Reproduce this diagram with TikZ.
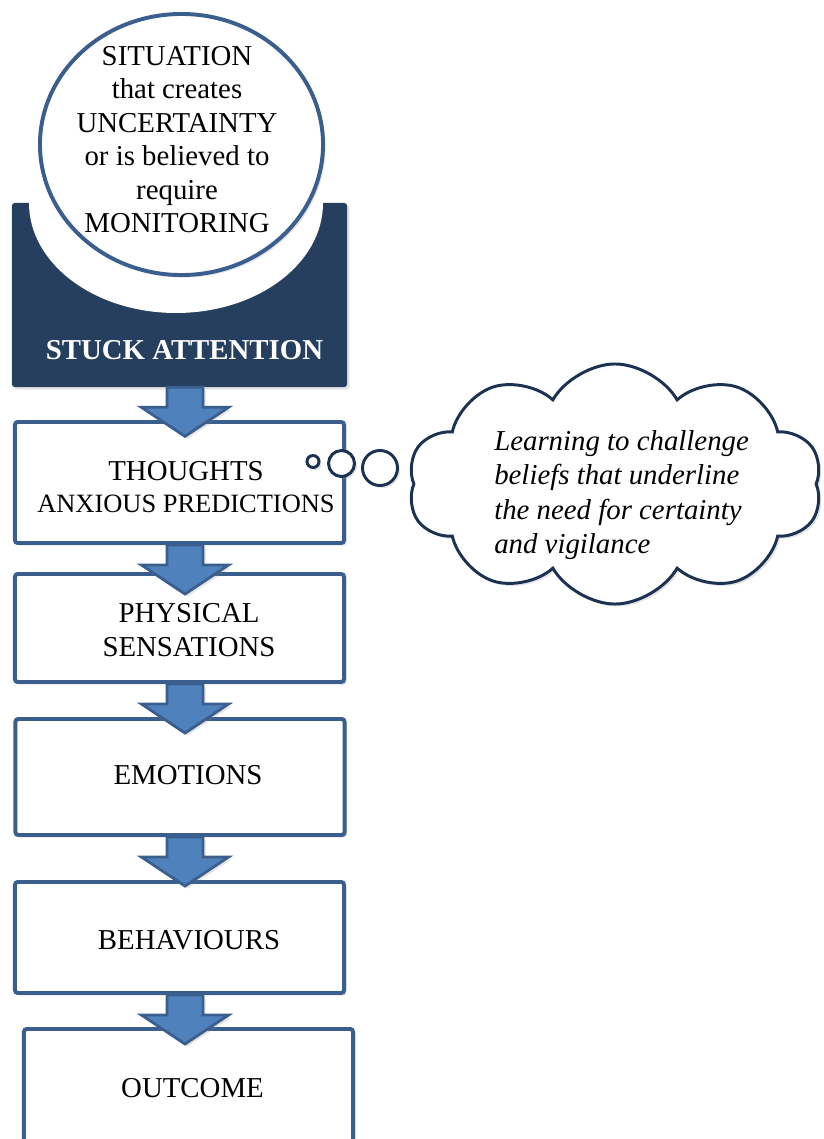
\documentclass[tikz,border=0pt]{standalone}
\usepackage{fontspec}
\setmainfont{Liberation Serif}
\usepackage{tikz}
\usetikzlibrary{calc}
\usetikzlibrary{shapes.geometric}
\usetikzlibrary{shapes.symbols}
\usetikzlibrary{shadows}

\definecolor{navy}{HTML}{263F5E}
\definecolor{boxblue}{HTML}{3A5F8F}
\definecolor{arrowblue}{HTML}{4F81BD}
\definecolor{cloudline}{HTML}{1B3252}

% block arrow leaving #1 and pointing into #2
\newcommand{\flowstep}[2]{%
	\path (#1.south -| spine) coordinate (s) (#2.north -| spine) coordinate (e);
	\coordinate (b) at ($(s)!0.5cm!(e)$);
	\coordinate (t) at ($(s)!1.225cm!(e)$);
	\draw[flowarrow] ([xshift=-12.8pt]s) -- ([xshift=-12.8pt]b) -- ([xshift=-31pt]b) -- (t)
		-- ([xshift=31pt]b) -- ([xshift=12.8pt]b) -- ([xshift=12.8pt]s) -- cycle;
}

\begin{document}
\begin{tikzpicture}[x=0.025cm, y=-0.025cm,
	softshadow/.style={drop shadow={opacity=0.22, shadow xshift=1.8pt, shadow yshift=-1.8pt}},
	stepbox/.style={draw=boxblue, line width=2.8pt, fill=white, rounded corners=2pt,
		minimum width=8.225cm, inner sep=0pt, softshadow},
	steptext/.style={font=\fontsize{20.5}{24}\selectfont, align=center, inner sep=0pt},
	flowarrow/.style={draw=boxblue, line width=2pt, fill=arrowblue, line join=miter, softshadow},
	bubble/.style={circle, draw=cloudline, line width=2.1pt, fill=white, inner sep=0pt, softshadow}]
	\useasboundingbox (0,0) rectangle (823,1139);
	\coordinate (spine) at (185,0);

	% -- Stuck attention block, with the situation sitting in it
	\node[fill=navy, rounded corners=2pt, minimum width=8.375cm, minimum height=4.6cm,
		inner sep=0pt, softshadow] (attention) at (179.5,295) {};
	\begin{scope}
		\clip (attention.north west) rectangle (attention.south east);
		\fill[white] (176,203) ellipse [x radius=147, y radius=110];
	\end{scope}
	\node[white, font=\bfseries\fontsize{20.5}{24}\selectfont, inner sep=0pt] (attention-t)
		at (184.5,350) {STUCK ATTENTION};

	\node[ellipse, draw=boxblue, line width=2.8pt, fill=white, minimum width=7.075cm,
		minimum height=6.525cm, inner sep=0pt, softshadow] (situation) at (181.5,144.5) {};
	\node[steptext, font=\fontsize{20.5}{23.8}\selectfont] (situation-t) at (177,139.5)
		{SITUATION\\that creates\\UNCERTAINTY\\or is believed to\\require\\MONITORING};

	% -- Steps
	\node[stepbox, minimum height=3.025cm] (thoughts) at (179.5,482.5) {};
	\node[stepbox, minimum height=2.7cm] (physical) at (179.5,628) {};
	\node[stepbox, minimum height=2.9cm] (emotions) at (180,777) {};
	\node[stepbox, minimum height=2.775cm] (behaviours) at (179.5,937.5) {};
	\node[stepbox, minimum height=2.85cm] (outcome) at (188.5,1086) {};

	\node[steptext] (thoughts-t) at (186,487)
		{THOUGHTS\\[-1.4pt]{\fontsize{18.8}{22.5}\selectfont ANXIOUS PREDICTIONS}};
	\node[steptext] (physical-t) at (189,630) {PHYSICAL\\SENSATIONS};
	\node[steptext] (emotions-t) at (188,775) {EMOTIONS};
	\node[steptext] (behaviours-t) at (189,940) {BEHAVIOURS};
	\node[steptext] (outcome-t) at (192.5,1088) {OUTCOME};

	% -- Arrows
	\flowstep{attention}{thoughts}
	\flowstep{thoughts}{physical}
	\flowstep{physical}{emotions}
	\flowstep{emotions}{behaviours}
	\flowstep{behaviours}{outcome}

	% -- Thought bubble
	\node[bubble, minimum size=0.3cm] (puff1) at (313,461.5) {};
	\node[bubble, minimum size=0.65cm] (puff2) at (341.5,463.5) {};
	\node[bubble, minimum size=0.875cm] (puff3) at (380,468) {};

	\node[cloud, cloud puffs=10, cloud puff arc=120, aspect=1.7, draw=cloudline,
		line width=2.1pt, fill=white, minimum width=10.35cm, minimum height=6cm,
		softshadow] (advice) at (615,484) {};
	\node[steptext, font=\itshape\fontsize{20.5}{24.4}\selectfont, align=left, anchor=west]
		(advice-t) at (494,495) {Learning to challenge\\beliefs that underline\\the need for certainty\\and vigilance};
\end{tikzpicture}
\end{document}
